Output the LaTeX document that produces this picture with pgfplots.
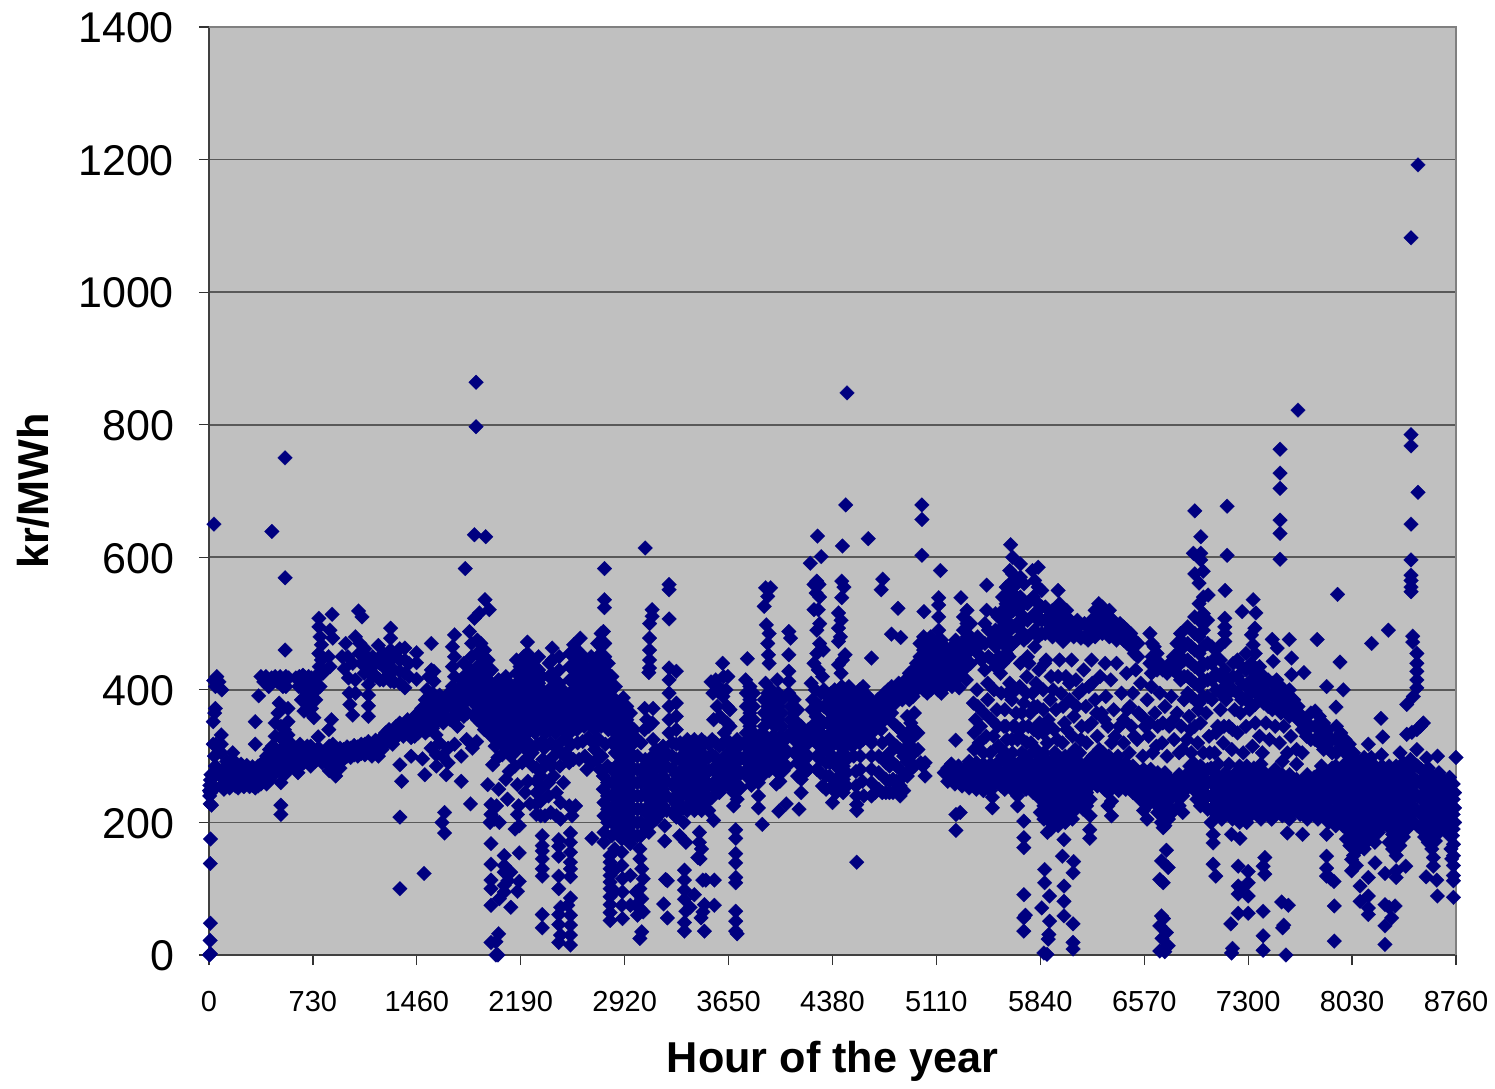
\documentclass[border=0pt]{standalone}
\usepackage{fontspec}
\setmainfont{Liberation Sans}
\usepackage{pgfplots}
\pgfplotsset{compat=1.18}
\definecolor{navy}{HTML}{000080}
\definecolor{plotbg}{HTML}{C0C0C0}
\begin{document}
\begin{tikzpicture}
\path[use as bounding box] (-104.5pt,-66.5pt) rectangle (643pt,477.5pt);
\begin{axis}[
    at={(0pt,0pt)},anchor=south west,
    scale only axis,width=623.5pt,height=464pt,
    xmin=0,xmax=8760,ymin=0,ymax=1400,
    axis background/.style={fill=plotbg},
    clip=false,
    axis x line*=bottom,axis y line*=left,
    xtick={0,730,1460,2190,2920,3650,4380,5110,5840,6570,7300,8030,8760},
    ytick={0,200,400,600,800,1000,1200,1400},
    ymajorgrids,grid style={black!65,line width=0.8pt},
    tick align=outside,tick pos=left,major tick length=5pt,
    every tick/.style={black!80,line width=0.6pt},
    axis line style={black!75,line width=0.8pt},
    /pgf/number format/assume math mode=true,
    /pgf/number format/1000 sep={},
    xticklabel style={font=\fontsize{14.5}{16}\selectfont,yshift=-9.5pt},
    yticklabel style={font=\fontsize{21.5}{24}\selectfont,xshift=-9pt,yshift=-0.5pt},
    xlabel={Hour of the year},ylabel={kr/MWh},
    xlabel style={font=\fontsize{21.6}{24}\bfseries,at={(axis description cs:0.5,0)},anchor=center,yshift=-53pt},
    ylabel style={font=\fontsize{21.6}{24}\bfseries,at={(axis description cs:0,0.5)},anchor=center,yshift=88pt},
]
\draw[black!50,line width=0.8pt] (axis cs:0,1400) -- (axis cs:8760,1400) -- (axis cs:8760,0);
\addplot[navy,only marks,mark=square*,mark size=2.6pt,mark options={rotate=45,draw=navy,fill=navy,line width=0.1pt}] coordinates {
% outliers, top
(35,650)(442,639)(535,569)(535,460)(534,750)(1800,583)(1865,634)(1944,631)(1876,864)(1876,797)(1939,536)(1969,521)(1900,516)(1865,508)
(2778,583)(2778,536)(2778,524)(3064,614)(3232,559)(3232,551)(3232,507)(3113,521)(3113,511)
(4275,632)(4301,601)(4224,591)(4450,617)(4473,679)(4482,848)(4631,628)(4733,567)(4722,551)(4840,523)(4794,484)(4859,479)(4654,448)
(5022,518)(5008,679)(5008,657)(5008,603)(5138,580)(5282,539)(5463,558)
(6925,670)(6967,631)(6915,606)(6967,606)(6967,596)(6925,575)(6984,579)(6955,561)(7152,677)(7152,603)(7138,550)
(7136,508)(7136,495)(7136,485)(7136,473)(7100,466)(7258,518)(7335,536)(7354,516)(7347,493)(7323,483)(7335,468)
(7469,476)(7589,476)(7504,463)(7605,448)(7476,443)(7605,423)(7692,426)(7785,476)(7928,544)(7945,442)(7851,405)(7968,400)(7917,374)
(8167,470)(8285,490)(8233,357)(8245,329)(7524,763)(7524,727)(7524,704)(7524,656)(7524,636)(7524,597)(7650,822)
(8493,1192)(8444,1082)(8444,785)(8444,768)(8493,698)(8444,650)(8444,596)(8444,573)(8444,565)(8444,555)(8444,548)
(8456,481)(8456,472)(8485,455)(8485,440)(8485,428)(8485,415)(8485,403)(8460,390)(8414,378)(8530,350)(8510,345)(8485,340)(8450,336)(8414,333)
% low outliers, left half
(4,0)(10,2)(8,22)(10,48)(9,138)(11,175)(1341,208)(1341,100)(1511,123)(1655,215)(1637,200)(1655,184)(1837,228)(505,226)(505,212)
(1981,168)(1981,137)(1981,113)(1981,100)(1981,75)(1981,19)(2016,0)(2030,0)(2016,20)(2035,32)
(2074,150)(2074,135)(2074,125)(2074,105)(2040,85)(2074,95)(2179,154)(2120,72)(2179,111)(2167,96)(2100,112)(2120,125)
(2341,180)(2341,165)(2341,157)(2341,145)(2341,130)(2341,119)(2341,61)(2341,41)
(2457,174)(2457,164)(2457,149)(2457,119)(2457,100)(2457,61)(2457,46)(2457,19)(2470,30)(2470,72)
(2539,184)(2539,170)(2539,155)(2539,140)(2539,130)(2539,118)(2539,86)(2520,75)(2539,60)(2539,45)(2539,30)(2539,15)(2690,176)
(2818,150)(2818,140)(2818,130)(2818,120)(2818,110)(2818,100)(2818,88)(2818,76)(2818,64)(2818,52)(2850,160)(2850,128)(2850,96)
(2900,175)(2900,155)(2900,135)(2905,115)(2905,95)(2900,75)(2905,55)(2960,120)(2960,75)
(3027,160)(3027,145)(3040,130)(3050,115)(3027,100)(3040,85)(3000,95)(3000,75)(3027,70)(3050,65)(3010,60)(3040,35)(3027,25)
(3201,172)(3306,180)(3350,170)(3445,185)(3445,170)(3460,160)(3545,203)(3434,147)(3450,145)(3208,114)(3220,112)(3469,113)(3490,113)(3550,113)(3194,77)(3220,56)
(3340,128)(3340,113)(3340,98)(3340,84)(3350,66)(3340,49)(3340,36)(3410,91)(3380,72)(3480,76)(3470,65)(3550,75)(3457,56)(3480,36)
(3700,189)(3700,176)(3700,153)(3700,139)(3700,117)(3700,109)(3700,66)(3700,51)(3700,36)(3710,32)
(3887,197)(4003,217)(4055,228)(4145,220)(4380,230)(4550,140)(4550,227)(5247,212)(5247,188)(5277,215)(5245,324)
(5724,202)(5724,177)(5724,162)(5724,91)(5735,60)(5724,56)(5724,36)
% low outliers, right half
(5870,129)(5870,109)(5905,89)(5850,71)(5905,51)(5900,31)(5895,24)(5887,1)(5865,3)(6006,174)(5995,149)(6074,141)(6070,124)(6006,104)(6006,81)(6006,59)(6070,47)(6070,19)(6070,9)
(6187,189)(6187,176)(6703,192)(6726,158)(6691,142)(6738,132)(6679,114)(6703,109)(6691,59)(6679,44)(6726,34)(6738,14)(6679,6)(6714,5)(6705,55)(6695,25)
(7054,182)(7054,169)(7054,137)(7073,119)(7183,182)(7242,176)(7230,134)(7300,126)(7300,109)(7230,104)(7250,100)(7230,92)(7300,89)(7230,63)(7300,63)(7178,47)(7183,3)(7190,10)
(7417,147)(7405,134)(7417,122)(7405,66)(7405,29)(7405,7)(7535,80)(7582,75)(7542,41)(7565,0)(7550,45)(7575,184)(7682,182)(7851,182)
(7851,149)(7851,131)(7851,119)(7903,111)(7880,115)(7905,74)(7905,21)(8027,144)(8027,127)(8060,135)(8086,104)(8086,81)(8144,89)(8144,71)(8144,61)(8191,139)(8144,117)
(8261,123)(8339,127)(8339,117)(8407,134)(8261,76)(8332,74)(8308,56)(8261,44)(8261,16)(8290,72)
(8550,118)(8625,113)(8629,89)(8601,147)(8601,134)(8742,167)(8742,150)(8742,135)(8742,120)(8742,112)(8742,87)(8730,145)(8725,160)(8735,180)
(8760,298)(8630,300)(8554,297)(8367,305)(8237,302)(8144,318)(8485,310)
% 0-1000: low band and upper row
(8,228)(5,240)(3,248)(6,256)(10,264)(14,272)(18,226)(12,245)(42,252)(42,270)(45,285)(38,300)(30,318)(48,318)(30,352)(40,365)(45,372)(33,414)(45,405)(55,420)(70,412)(90,400)
(86,332)(86,318)(86,305)(85,255)(85,272)(105,250)(105,265)(105,282)(125,258)(125,275)(125,292)(145,252)(145,268)(145,285)(165,258)(165,275)(165,295)(167,305)
(185,255)(185,270)(185,284)(205,252)(205,266)(205,280)(225,258)(225,272)(225,288)(245,254)(245,268)(245,282)(265,258)(265,272)(265,286)(285,254)(285,268)(285,280)(305,256)(305,270)(305,284)
(325,252)(325,266)(325,280)(345,255)(345,270)(345,285)(325,352)(325,318)(349,391)(365,258)(365,272)(365,288)(385,262)(385,276)(385,292)(405,258)(405,272)(405,286)(405,300)
(365,420)(385,412)(400,420)(420,405)(440,418)(465,420)(480,412)(500,420)(520,405)(540,420)(540,405)(560,418)
(425,264)(425,278)(425,294)(425,310)(445,270)(445,284)(445,298)(445,315)(465,280)(465,296)(465,312)(465,330)(505,260)(505,275)(505,292)(505,310)(505,328)(505,345)(493,380)(465,350)(485,365)
(530,272)(530,288)(530,304)(530,322)(530,340)(555,280)(555,296)(555,314)(555,332)(555,352)(555,372)(580,284)(580,300)(580,318)(600,290)(600,308)(625,275)(625,292)(640,285)(640,302)(640,318)
(610,418)(635,420)(660,422)(680,418)(700,420)(720,418)(745,415)(770,425)(630,405)(655,402)(680,402)(705,402)(730,402)(755,400)(780,405)(650,385)(675,385)(700,385)(725,388)(750,385)(667,368)(690,370)(720,372)
(772,508)(772,495)(780,480)(790,468)(772,455)(790,445)(775,435)(800,425)(865,514)(850,490)(870,478)(840,450)(850,435)(737,358)(767,329)(860,355)(842,340)
(665,290)(665,305)(690,298)(690,315)(715,285)(715,300)(715,315)(745,292)(745,308)(770,298)(770,312)(795,290)(795,305)(820,292)(820,308)(845,278)(845,295)(845,315)(870,285)(870,300)(870,318)(890,270)(895,290)(895,305)(920,282)(920,298)(920,312)
(945,295)(945,310)(970,300)(970,314)(995,298)(995,312)(1020,302)(1020,316)(1045,300)(1045,314)(1070,304)(1070,318)(1095,302)(1095,318)(1120,306)(1120,322)(1145,300)(1145,316)(1170,308)(1170,324)(1190,300)(1190,318)(1215,310)(1215,328)(1240,320)(1240,335)(1265,322)(1265,340)(1290,318)(1290,335)(1315,328)(1315,345)
% 900-1900: blob of upper row
(935,450)(950,432)(960,470)(975,450)(980,418)(985,395)(990,378)(1010,362)(1028,395)(1028,415)(1028,480)(1010,440)(1051,519)(1075,510)(1060,470)(1055,455)(1070,440)(1090,425)(1095,462)(1120,448)(1120,430)(1120,408)(1120,392)(1120,376)(1120,360)
(1150,450)(1150,435)(1150,420)(1190,467)(1175,445)(1175,420)(1200,440)(1200,415)(1225,455)(1225,435)(1225,415)(1276,493)(1276,478)(1276,460)(1276,445)(1276,430)(1276,413)(1250,440)(1250,420)(1300,450)(1300,430)(1300,412)
(1340,462)(1340,445)(1340,428)(1340,410)(1376,463)(1376,445)(1376,425)(1376,403)(1405,440)(1405,420)(1458,456)(1458,441)(1458,416)(1562,470)(1562,430)(1545,420)(1580,428)(1580,413)(1530,400)
(1340,350)(1340,336)(1365,345)(1365,330)(1395,355)(1395,338)(1420,345)(1420,328)(1445,360)(1445,345)(1445,330)(1470,365)(1470,350)(1470,335)(1495,372)(1495,355)(1495,340)(1520,385)(1520,368)(1520,352)(1520,335)(1545,390)(1545,372)(1545,355)(1545,340)(1570,395)(1570,378)(1570,360)(1570,342)(1595,385)(1595,368)(1595,350)(1595,332)(1620,392)(1620,375)(1620,358)(1645,385)(1645,368)(1645,350)(1670,392)(1670,375)(1670,358)
(1341,287)(1353,262)(1420,300)(1500,296)(1516,272)(1560,312)(1597,302)(1597,285)(1620,320)(1640,300)(1667,272)(1680,290)(1680,312)(1725,318)(1772,262)(1772,300)(1810,325)(1850,312)(1880,322)
(1725,483)(1710,465)(1725,450)(1710,435)(1725,420)(1710,405)(1725,390)(1710,375)(1725,360)(1695,395)(1695,375)(1695,355)(1745,400)(1745,380)(1745,360)(1745,345)(1770,415)(1770,395)(1770,375)(1790,440)(1790,420)(1790,400)(1790,380)(1790,360)(1815,405)(1815,385)(1815,365)(1830,488)(1845,470)(1845,450)(1830,432)(1830,410)(1840,390)(1860,420)(1860,400)(1860,380)(1860,362)(1885,475)(1885,455)(1885,435)(1885,415)(1885,395)(1885,375)(1885,355)(1910,470)(1910,450)(1910,430)(1910,410)(1910,390)(1910,370)(1910,350)(1935,460)(1935,440)(1935,420)(1935,400)(1935,380)(1935,360)(1935,340)(1960,445)(1960,425)(1960,405)(1960,385)(1960,365)(1960,345)(1985,430)(1985,410)(1985,390)(1985,370)(1985,350)(1985,330)
% 1950-2950: big blob
(2010,395)(2010,375)(2010,355)(2010,335)(2010,315)(2035,415)(2035,395)(2035,375)(2035,355)(2035,335)(2060,405)(2060,385)(2060,365)(2060,345)(2060,325)(2085,420)(2085,400)(2085,380)(2085,360)(2085,340)(2110,410)(2110,390)(2110,370)(2110,350)(2110,330)(2135,400)(2135,380)(2135,360)(2135,340)(2135,322)
(2160,445)(2160,425)(2160,405)(2160,385)(2160,365)(2160,345)(2160,325)(2185,435)(2185,415)(2185,395)(2185,375)(2185,355)(2185,335)(2210,450)(2210,430)(2210,410)(2210,390)(2210,370)(2210,350)(2210,330)(2237,472)(2237,455)(2237,435)(2237,415)(2237,395)(2237,375)(2237,355)(2237,335)(2265,445)(2265,425)(2265,405)(2265,385)(2265,365)(2265,345)(2290,435)(2290,415)(2290,395)(2290,375)(2290,355)(2290,335)(2315,450)(2315,430)(2315,410)(2315,390)(2315,370)(2315,350)(2340,420)(2340,400)(2340,380)(2340,360)(2340,340)(2340,322)
(2365,395)(2365,375)(2365,355)(2365,335)(2390,440)(2390,420)(2390,400)(2390,380)(2390,360)(2390,340)(2411,463)(2411,445)(2411,425)(2411,405)(2411,385)(2411,365)(2411,345)(2435,415)(2435,395)(2435,375)(2435,355)(2435,335)(2460,450)(2460,430)(2460,410)(2460,390)(2460,370)(2460,350)(2485,400)(2485,380)(2485,360)(2485,340)(2510,385)(2510,365)(2510,345)(2510,325)
(2535,455)(2535,435)(2535,415)(2535,395)(2535,375)(2535,355)(2535,335)(2562,468)(2562,450)(2562,430)(2562,410)(2562,390)(2562,370)(2562,350)(2585,460)(2585,440)(2585,420)(2585,400)(2585,380)(2585,360)(2585,340)(2608,478)(2610,455)(2610,435)(2610,415)(2610,395)(2610,375)(2610,355)(2635,445)(2635,425)(2635,405)(2635,385)(2635,365)(2635,345)(2660,430)(2660,410)(2660,390)(2660,370)(2660,350)(2685,450)(2685,430)(2685,410)(2685,390)(2685,370)(2685,350)(2710,440)(2710,420)(2710,400)(2710,380)(2710,360)(2710,340)
(2730,470)(2730,450)(2730,430)(2730,410)(2730,390)(2730,370)(2730,350)(2755,485)(2755,465)(2755,445)(2755,425)(2755,405)(2755,385)(2755,365)(2755,345)(2771,488)(2780,470)(2780,450)(2780,430)(2780,410)(2780,390)(2780,370)(2780,350)(2805,440)(2805,420)(2805,400)(2805,380)(2805,360)(2805,340)(2830,420)(2830,400)(2830,380)(2830,360)(2830,340)(2830,320)(2855,405)(2855,385)(2855,365)(2855,345)(2855,325)(2855,305)(2880,380)(2880,360)(2880,340)(2880,320)(2880,300)
% under the blob, 1950-2950
(1993,287)(1958,257)(1981,227)(1981,212)(1975,200)(2005,205)(2020,225)(2035,250)(2030,298)(2060,302)(2040,200)(2097,235)(2109,277)(2120,300)(2167,257)(2167,212)(2175,225)(2180,195)(2150,190)
(2300,282)(2300,262)(2300,245)(2300,228)(2300,212)(2330,270)(2330,250)(2330,232)(2330,210)(2360,285)(2360,210)(2385,260)(2385,240)(2400,215)(2420,300)(2420,270)(2440,245)(2440,210)(2470,230)(2470,205)(2490,260)(2500,300)(2530,290)(2530,225)(2550,210)(2575,225)(2600,295)(2690,290)(2710,310)(2760,300)(2770,270)(2770,250)(2775,230)(2775,210)(2775,185)(2775,170)(2800,285)(2800,260)(2800,240)(2800,220)(2800,200)(2830,280)(2830,260)(2830,240)(2830,220)(2830,200)(2830,180)(2860,285)(2860,265)(2860,245)(2860,225)(2860,205)(2860,185)(2885,280)(2885,260)(2885,240)(2885,220)(2885,200)(2885,180)
(2045,320)(2095,312)(2145,305)(2170,318)(2215,312)(2245,320)(2270,305)(2310,318)(2355,312)(2400,320)(2440,312)(2475,322)(2505,305)(2545,318)(2590,320)(2625,322)(2665,328)(2700,320)(2740,325)(2785,318)(2150,285)(2200,290)(2240,298)(2275,285)(2345,295)(2395,290)(2465,285)(2475,305)(2560,295)(2640,300)(2655,280)(2725,295)(2745,280)(2085,265)(2240,262)(2220,245)(2255,228)(2405,285)
(2910,388)(2910,370)(2910,350)(2910,330)(2910,310)(2910,290)(2910,270)(2910,250)(2910,230)(2910,210)(2910,190)(2935,375)(2935,355)(2935,335)(2935,315)(2935,295)(2935,275)(2935,255)(2935,235)(2935,215)(2935,195)(2935,175)(2960,365)(2960,345)(2960,325)(2960,305)(2960,285)(2960,265)(2960,245)(2960,225)(2960,205)(2960,185)(2960,168)(2985,340)(2985,320)(2985,300)(2985,280)(2985,260)(2985,240)(2985,220)(2985,200)(2985,180)(3010,325)(3010,300)(3010,280)(3010,260)(3010,240)(3010,220)(3010,200)(3010,180)(3035,320)(3035,280)(3035,260)(3035,240)(3035,220)(3035,200)(3035,180)
(3060,372)(3075,355)(3060,340)(3090,345)(3095,500)(3095,478)(3095,460)(3095,445)(3095,433)(3090,426)(3120,372)(3115,350)(3120,325)
% 3050-3700
(3065,295)(3065,270)(3065,245)(3065,220)(3065,195)(3090,285)(3090,260)(3090,235)(3090,210)(3090,185)(3115,300)(3115,275)(3115,250)(3115,225)(3115,200)(3140,310)(3140,285)(3140,265)(3140,245)(3140,220)(3140,205)(3165,305)(3165,285)(3165,260)(3165,235)(3165,212)(3190,315)(3190,295)(3190,270)(3190,250)(3190,225)(3201,195)(3215,305)(3215,285)(3215,262)(3215,240)(3215,218)
(3232,433)(3232,415)(3232,395)(3232,375)(3232,355)(3232,335)(3255,320)(3255,300)(3255,280)(3255,258)(3255,235)(3255,215)(3283,428)(3283,380)(3283,360)(3283,340)(3283,318)(3283,295)(3283,272)(3283,250)(3283,228)(3283,208)(3310,320)(3310,298)(3310,278)(3310,258)(3310,238)(3310,218)(3335,312)(3335,290)(3335,268)(3335,245)(3335,222)(3335,200)(3360,325)(3360,305)(3360,285)(3360,262)(3360,240)(3360,218)
(3385,318)(3385,296)(3385,275)(3385,252)(3385,230)(3410,325)(3410,305)(3410,285)(3410,262)(3410,240)(3410,218)(3435,315)(3435,292)(3435,270)(3435,248)(3435,225)(3460,325)(3460,305)(3460,285)(3460,262)(3460,240)(3460,218)(3485,320)(3485,295)(3485,272)(3485,250)(3485,228)(3510,318)(3510,298)(3510,278)(3510,258)(3510,238)(3510,218)(3535,325)(3535,302)(3535,280)(3535,258)(3535,238)(3560,320)(3560,298)(3560,276)(3560,254)(3585,315)(3585,290)(3585,268)(3585,245)
(3527,412)(3540,395)(3560,415)(3580,405)(3608,440)(3615,420)(3645,420)(3632,400)(3610,390)(3570,375)(3545,355)(3590,360)(3640,375)(3660,345)(3620,335)(3660,370)(3640,350)
(3610,318)(3610,296)(3610,274)(3610,252)(3635,325)(3635,302)(3635,280)(3635,258)(3660,320)(3660,298)(3660,276)(3660,254)(3685,312)(3685,290)(3685,268)(3685,245)(3685,225)(3710,325)(3710,302)(3710,280)(3710,258)(3710,235)(3735,318)(3735,296)(3735,274)(3735,252)
% 3700-4400
(3782,447)(3770,415)(3775,395)(3775,375)(3775,355)(3775,335)(3800,405)(3800,385)(3800,365)(3800,345)(3825,395)(3825,375)(3825,355)(3825,335)(3760,320)(3760,298)(3760,276)(3785,312)(3785,290)(3785,268)(3810,322)(3810,300)(3810,278)(3810,256)(3835,315)(3835,292)(3835,270)(3860,328)(3860,305)(3860,282)(3860,260)(3860,240)(3860,222)
(3910,554)(3945,554)(3925,541)(3900,526)(3915,498)(3935,485)(3925,470)(3930,453)(3935,440)(3910,410)(3992,415)(3900,385)(3900,365)(3900,345)(3925,395)(3925,375)(3925,355)(3950,400)(3950,380)(3950,360)(3975,385)(3975,365)(3975,345)(4000,395)(4000,375)(4000,355)(4025,385)(4025,365)(4025,345)
(3885,335)(3885,315)(3885,292)(3885,270)(3910,330)(3910,308)(3910,285)(3935,322)(3935,300)(3935,278)(3960,330)(3960,308)(3960,285)(3985,322)(3985,300)(3985,278)(3985,258)(4010,330)(4010,308)(4010,285)(4010,262)(4035,322)(4035,300)(4035,278)(4060,330)(4060,308)(4060,285)
(4073,488)(4085,478)(4073,453)(4073,428)(4073,413)(4073,395)(4085,375)(4085,355)(4085,335)(4110,385)(4110,365)(4110,345)(4110,325)(4110,305)(4135,370)(4135,350)(4135,330)(4135,310)(4135,290)(4135,270)(4160,345)(4160,325)(4160,305)(4160,285)(4160,265)(4160,245)(4185,335)(4185,315)(4185,295)(4185,275)(4210,340)(4210,320)(4210,300)(4210,280)
(4270,564)(4250,559)(4285,559)(4265,546)(4290,540)(4250,521)(4280,521)(4290,500)(4270,490)(4290,470)(4270,455)(4315,460)(4250,440)(4280,430)(4310,420)(4230,410)(4260,400)(4300,395)(4240,385)(4270,378)(4235,370)(4265,360)(4290,375)(4235,345)(4265,340)(4295,355)(4235,325)(4265,320)(4295,335)(4320,400)(4320,375)(4320,350)(4320,330)(4325,310)(4270,300)(4295,315)(4295,295)(4270,280)(4295,275)(4310,255)(4335,290)(4335,270)(4335,250)(4360,290)(4360,270)(4380,255)
% 4330-5300
(4445,564)(4460,555)(4445,539)(4422,516)(4440,505)(4422,493)(4435,480)(4422,473)(4468,453)(4450,445)(4422,438)(4440,425)
(4345,390)(4345,370)(4345,350)(4345,330)(4345,315)(4370,395)(4370,375)(4370,355)(4370,335)(4370,315)(4395,400)(4395,380)(4395,360)(4395,340)(4395,320)(4420,395)(4420,375)(4420,355)(4420,335)(4420,318)(4445,405)(4445,385)(4445,365)(4445,345)(4445,325)(4470,395)(4470,375)(4470,355)(4470,335)(4470,315)(4495,405)(4495,385)(4495,365)(4495,345)(4495,325)(4520,395)(4520,375)(4520,355)(4520,335)(4520,315)(4545,390)(4545,370)(4545,350)(4545,330)(4570,400)(4570,380)(4570,360)(4570,340)(4570,320)(4595,405)(4595,385)(4595,365)(4595,345)(4595,325)(4620,392)(4620,372)(4620,352)(4620,332)(4645,385)(4645,365)(4645,345)(4645,325)(4670,378)(4670,358)(4670,338)(4695,385)(4695,365)(4695,345)(4720,378)(4720,358)(4720,340)
(4745,395)(4745,375)(4745,355)(4770,400)(4770,380)(4770,360)(4795,405)(4795,385)(4795,365)(4820,400)(4820,380)(4845,410)(4845,390)(4870,405)(4870,385)(4895,415)(4895,395)(4920,425)(4920,405)(4920,385)(4945,430)(4945,410)(4945,390)(4970,440)(4970,420)(4970,400)
(4995,470)(4995,450)(4995,430)(4995,410)(5020,480)(5020,460)(5020,440)(5020,420)(5020,400)(5045,475)(5045,455)(5045,435)(5045,415)(5045,395)(5070,480)(5070,460)(5070,440)(5070,420)(5070,400)(5095,470)(5095,450)(5095,430)(5095,410)(5120,460)(5120,440)(5120,420)(5120,400)(5145,475)(5145,455)(5145,435)(5145,415)(5145,395)(5170,465)(5170,445)(5170,425)(5170,405)(5195,455)(5195,435)(5195,415)(5220,465)(5220,445)(5220,425)(5220,405)(5245,475)(5245,455)(5245,435)(5245,415)(5270,465)(5270,445)(5270,425)(5270,403)
(5126,539)(5126,528)(5126,510)(5126,490)(5126,475)(5300,510)(5300,490)(5300,470)(5300,450)(5300,430)(5325,520)(5325,500)(5325,480)(5325,460)(5325,440)(5350,500)(5350,480)(5350,460)(5350,440)(5320,415)
(4380,300)(4405,285)(4405,265)(4405,245)(4430,300)(4430,280)(4430,260)(4455,305)(4455,285)(4455,265)(4455,245)(4480,295)(4480,275)(4480,255)(4530,300)(4545,277)(4545,255)(4550,240)(4550,218)(4575,300)(4575,280)(4590,262)(4600,240)
(4654,320)(4654,300)(4654,280)(4654,260)(4654,240)(4680,245)(4705,250)(4705,275)(4705,300)(4730,245)(4730,320)(4755,290)(4755,265)(4755,245)(4780,325)(4780,305)(4780,285)(4780,262)(4780,245)(4805,245)(4805,265)(4805,290)(4805,350)(4830,345)(4830,315)(4830,285)(4830,262)(4855,340)(4855,310)(4855,280)(4855,255)(4855,240)(4880,330)(4880,300)(4880,270)(4880,248)(4905,360)(4905,335)(4905,315)(4905,292)(4905,270)(4930,350)(4930,325)(4930,300)(4930,280)(4955,365)(4955,340)(4955,310)(4955,285)(4980,335)(4980,310)(5000,290)(5015,285)(5030,270)(5030,290)
% 5150-5800 low band and lattice
(5165,275)(5190,262)(5190,282)(5215,268)(5215,288)(5240,258)(5240,278)(5265,265)(5265,285)(5290,255)(5290,275)(5315,262)(5315,282)(5340,252)(5340,272)(5340,292)(5365,260)(5365,280)(5390,250)(5390,270)(5390,290)(5415,256)(5415,276)(5440,248)(5440,268)(5440,288)(5465,258)(5465,278)(5490,248)(5490,268)(5490,288)(5503,238)(5503,222)(5515,258)(5515,278)(5540,268)(5540,290)(5565,255)(5565,275)(5590,250)(5590,270)(5590,292)(5615,260)(5615,282)(5640,250)(5640,270)(5640,292)(5665,260)(5665,282)(5680,240)(5680,225)(5690,250)(5690,270)(5690,290)(5715,258)(5715,280)(5740,250)(5740,270)(5740,292)(5765,258)(5765,280)(5790,245)(5790,265)(5790,285)(5815,255)(5815,275)
(5375,310)(5375,335)(5385,355)(5370,380)(5395,400)(5400,375)(5410,320)(5420,345)(5440,305)(5445,365)(5460,330)(5470,385)(5470,410)(5490,305)(5495,355)(5510,330)(5515,400)(5535,370)(5540,345)(5545,315)(5560,425)(5565,395)(5575,300)(5585,345)(5590,370)(5605,325)(5620,450)(5625,410)(5640,385)(5645,305)(5650,345)(5670,365)(5680,325)(5695,405)(5700,440)(5710,305)(5720,345)(5725,380)(5745,420)(5745,320)(5760,300)(5770,365)(5785,395)(5795,340)(5810,310)(5820,375)(5830,430)(5835,350)
(5640,325)(5660,345)(5665,400)(5690,330)(5710,365)(5735,300)(5740,395)(5755,345)(5760,440)(5775,320)(5795,375)(5810,410)(5825,335)(5840,300)(5600,345)(5610,395)(5595,305)
(5375,465)(5400,480)(5400,455)(5425,470)(5425,445)(5463,520)(5450,500)(5475,490)(5450,470)(5475,450)(5450,430)(5500,475)(5500,445)(5525,515)(5525,490)(5525,465)(5525,435)(5545,510)(5550,480)(5550,450)(5575,540)(5575,520)(5575,495)(5575,470)(5575,440)(5600,555)(5600,530)(5600,505)(5600,480)(5600,455)(5625,580)(5625,560)(5625,540)(5625,515)(5625,490)(5625,465)(5631,619)(5645,600)(5645,575)(5650,545)(5650,520)(5650,495)(5650,470)(5675,560)(5675,530)(5675,500)(5675,475)(5700,590)(5700,570)(5700,540)(5700,515)(5700,490)(5725,560)(5725,530)(5725,505)(5725,475)(5750,530)(5750,505)(5750,480)(5750,450)
% 5800-7300 upper band
(5785,580)(5800,565)(5790,540)(5800,515)(5800,490)(5800,465)(5825,585)(5825,555)(5825,530)(5825,505)(5825,480)(5850,550)(5850,525)(5850,505)(5850,485)(5875,525)(5875,505)(5875,485)(5900,510)(5900,490)(5925,520)(5925,500)(5925,480)(5950,505)(5950,485)(5975,520)(5975,500)(5975,480)(5965,550)(5975,530)(6000,510)(6000,490)(6000,473)(6025,520)(6025,500)(6025,480)(6050,505)(6050,485)(6075,500)(6075,480)(6100,505)(6100,485)(6125,498)(6125,478)(6150,500)(6150,480)(6175,495)(6175,475)(6200,505)(6200,485)(6225,520)(6225,500)(6225,480)(6250,530)(6250,510)(6250,490)(6275,525)(6275,505)(6275,485)(6300,515)(6300,495)(6325,520)(6325,500)(6325,480)(6350,505)(6350,485)(6375,495)(6375,475)(6400,500)(6400,482)(6425,495)(6425,475)(6450,490)(6450,470)(6475,485)(6475,465)(6500,475)(6500,455)(6525,470)(6525,450)
(6610,485)(6625,470)(6625,450)(6640,465)(6640,440)(6660,455)(6660,430)(6680,440)(6610,440)(6620,425)(6700,430)(6730,425)
(6750,440)(6775,450)(6775,430)(6800,470)(6800,445)(6800,425)(6825,485)(6825,460)(6825,440)(6825,415)(6850,470)(6850,445)(6850,420)(6875,495)(6875,470)(6875,445)(6875,420)(6875,395)(6900,465)(6900,440)(6900,415)(6900,390)(6925,510)(6925,485)(6925,460)(6925,435)(6925,410)(6925,385)(6955,530)(6955,505)(6955,480)(6955,455)(6955,430)(6955,405)(6955,380)(6985,540)(6985,515)(6985,490)(6985,465)(6985,440)(6985,415)(6985,390)(7019,543)(7015,505)(7015,470)(7015,440)(7015,415)(7015,390)(7045,465)(7045,440)(7045,415)(7075,450)(7075,425)(7075,400)(7105,445)(7105,420)(7105,395)(7135,430)(7135,405)(7165,415)(7165,395)(7195,440)(7195,420)(7195,400)(7225,445)(7225,420)(7225,395)(7255,435)(7255,410)(7255,385)(7285,455)(7285,430)(7285,405)(7285,385)
(7320,440)(7320,415)(7320,395)(7350,455)(7350,425)(7350,400)(7350,378)(7380,435)(7380,410)(7380,390)(7410,420)(7410,400)(7410,380)(7440,415)(7440,395)(7440,375)(7470,410)(7470,390)(7470,370)(7500,415)(7500,395)(7500,375)(7530,405)(7530,385)(7530,365)(7560,395)(7560,375)(7590,400)(7590,380)(7590,360)(7620,385)(7620,365)(7650,375)(7650,355)(7680,360)(7680,340)(7710,350)(7710,330)(7740,365)(7740,345)(7740,325)(7770,368)(7770,345)(7770,325)(7800,360)(7800,340)(7800,320)(7830,350)(7830,330)(7830,310)(7860,340)(7860,320)(7890,325)(7890,305)(7920,345)(7920,325)(7920,305)(7950,335)(7950,315)(7980,325)(7980,305)(8010,318)(8040,305)
% 5840-7300 lattice between bands
(5860,300)(5860,335)(5860,370)(5860,400)(5870,440)(5890,320)(5895,355)(5910,385)(5915,420)(5935,340)(5945,305)(5950,370)(5975,445)(5985,395)(5995,320)(6010,350)(6020,420)(6040,300)(6045,385)(6060,445)(6065,330)(6075,360)(6090,415)(6110,395)(6115,305)(6130,345)(6145,430)(6160,375)(6165,320)(6180,405)(6200,445)(6200,350)(6210,300)(6225,385)(6240,330)(6260,420)(6270,365)(6280,305)(6295,440)(6300,390)(6315,345)(6335,415)(6340,320)(6355,370)(6375,440)(6385,300)(6395,345)(6410,395)(6425,320)(6445,425)(6450,370)(6465,305)(6480,345)(6490,395)(6510,430)(6520,325)(6530,365)(6545,410)(6560,300)(6575,345)(6590,385)(6600,330)(6620,405)(6630,305)(6645,365)(6665,345)(6680,395)(6695,320)(6715,375)(6730,300)(6745,345)(6760,390)(6780,325)(6800,365)(6815,305)(6830,345)(6850,385)(6870,325)(6885,360)(6900,305)(6925,345)(6945,320)(6965,350)(6985,305)(7005,365)(7025,330)(7045,385)(7065,305)(7085,345)(7105,370)(7125,320)(7145,385)(7165,345)(7185,310)(7205,370)(7225,335)(7245,365)(7265,305)(7285,345)(7310,370)(7330,315)(7350,350)(7380,330)(7400,305)(7425,350)(7450,325)(7490,345)(7520,320)(7550,345)(7575,305)(7600,330)(7640,310)(7680,305)
(5880,445)(5905,345)(5930,400)(5960,325)(5965,420)(6000,375)(6025,340)(6045,410)(6085,310)(6095,375)(6125,325)(6135,400)(6175,345)(6205,410)(6235,365)(6255,310)(6290,355)(6320,300)(6365,330)(6425,355)(6470,375)(6500,330)(6555,360)(6610,350)(6655,315)(6700,350)(6775,355)(6840,310)(6895,340)(6950,370)(7030,305)(7075,335)(7130,345)(7190,340)
% 5840-8760 low band
(5840,215)(5840,235)(5840,255)(5840,275)(5840,295)(5865,205)(5865,225)(5865,245)(5865,265)(5865,285)(5865,305)(5890,185)(5890,205)(5890,225)(5890,245)(5890,265)(5890,285)(5915,190)(5915,210)(5915,230)(5915,250)(5915,270)(5915,290)(5940,205)(5940,225)(5940,245)(5940,265)(5940,285)(5940,305)(5965,195)(5965,215)(5965,235)(5965,255)(5965,275)(5965,295)(5990,210)(5990,230)(5990,250)(5990,270)(5990,290)(6015,200)(6015,220)(6015,240)(6015,260)(6015,280)(6015,300)(6040,215)(6040,235)(6040,255)(6040,275)(6065,205)(6065,225)(6065,245)(6065,265)(6065,285)(6090,220)(6090,240)(6090,260)(6090,280)(6090,300)(6115,230)(6115,250)(6115,270)(6115,290)(6140,220)(6140,240)(6140,260)(6140,280)(6165,225)(6165,245)(6165,265)(6165,285)(6190,210)(6190,235)(6190,255)(6190,275)(6190,295)
(6215,265)(6215,285)(6240,255)(6240,275)(6240,295)(6265,262)(6265,282)(6290,250)(6290,270)(6290,290)(6315,225)(6315,245)(6315,262)(6315,282)(6340,210)(6340,232)(6340,252)(6340,272)(6340,292)(6365,258)(6365,278)(6390,248)(6390,268)(6390,288)(6415,258)(6415,278)(6440,250)(6440,270)(6440,290)(6465,258)(6465,278)(6490,245)(6490,265)(6490,285)(6515,250)(6515,270)(6540,235)(6540,255)(6540,275)(6565,218)(6565,240)(6565,260)(6565,280)(6590,205)(6590,225)(6590,248)(6590,268)(6615,240)(6615,260)(6615,280)(6640,230)(6640,250)(6640,270)(6665,215)(6665,235)(6665,255)(6665,275)(6690,200)(6690,220)(6690,240)(6690,262)(6715,195)(6715,215)(6715,235)(6715,255)(6715,275)(6740,205)(6740,225)(6740,248)(6740,268)(6765,215)(6765,238)(6765,258)(6790,240)(6790,262)(6815,225)(6815,250)(6815,272)(6840,215)(6840,240)(6840,262)(6865,250)(6865,272)(6890,260)(6890,285)
(6915,250)(6915,270)(6915,290)(6940,235)(6940,255)(6940,275)(6965,225)(6965,245)(6965,265)(6965,285)(6990,235)(6990,255)(6990,275)(7015,220)(7015,240)(7015,260)(7015,280)(7040,200)(7040,220)(7040,240)(7040,262)(7040,282)(7065,215)(7065,235)(7065,255)(7065,275)(7090,225)(7090,245)(7090,265)(7090,288)(7115,205)(7115,225)(7115,245)(7115,265)(7140,215)(7140,235)(7140,255)(7140,275)(7165,225)(7165,245)(7165,265)(7165,288)(7190,205)(7190,225)(7190,245)(7190,265)(7215,215)(7215,235)(7215,255)(7215,275)(7240,200)(7240,220)(7240,240)(7240,262)(7240,285)(7265,210)(7265,232)(7265,252)(7265,272)(7290,200)(7290,222)(7290,242)(7290,262)(7290,285)(7315,210)(7315,232)(7315,252)(7315,272)(7340,220)(7340,240)(7340,260)(7340,282)(7365,212)(7365,232)(7365,252)(7365,272)(7390,205)(7390,225)(7390,245)(7390,265)(7390,288)(7415,215)(7415,235)(7415,255)(7415,275)(7440,225)(7440,245)(7440,265)(7465,205)(7465,228)(7465,250)(7465,272)(7490,215)(7490,238)(7490,258)(7490,280)(7515,225)(7515,245)(7515,265)(7540,210)(7540,232)(7540,252)(7540,272)(7540,292)(7565,220)(7565,240)(7565,260)(7590,205)(7590,228)(7590,250)(7590,272)(7615,215)(7615,238)(7615,258)(7640,222)(7640,245)(7640,265)(7640,288)(7665,212)(7665,235)(7665,255)(7690,225)(7690,245)(7690,265)(7715,205)(7715,228)(7715,250)(7715,272)(7740,215)(7740,238)(7740,258)(7765,225)(7765,245)(7765,268)(7790,205)(7790,228)(7790,250)(7790,272)(7815,215)(7815,238)(7815,258)(7815,285)
(7840,210)(7840,232)(7840,255)(7840,278)(7865,200)(7865,222)(7865,245)(7865,268)(7890,215)(7890,238)(7890,260)(7890,282)(7915,195)(7915,218)(7915,240)(7915,262)(7915,285)(7940,205)(7940,228)(7940,250)(7940,272)(7965,195)(7965,215)(7965,238)(7965,260)(7965,285)(7990,175)(7990,200)(7990,222)(7990,245)(7990,268)(7990,290)(8015,165)(8015,185)(8015,208)(8015,230)(8015,252)(8015,275)(8015,298)(8040,150)(8040,172)(8040,195)(8040,218)(8040,240)(8040,262)(8040,285)(8065,158)(8065,180)(8065,205)(8065,228)(8065,250)(8065,272)(8065,295)(8090,170)(8090,192)(8090,215)(8090,238)(8090,260)(8090,282)(8115,160)(8115,182)(8115,205)(8115,228)(8115,250)(8115,272)(8115,298)(8140,172)(8140,195)(8140,218)(8140,240)(8140,262)(8140,285)(8165,185)(8165,208)(8165,230)(8165,252)(8165,275)(8165,298)(8190,170)(8190,195)(8190,218)(8190,240)(8190,262)(8190,285)(8215,185)(8215,208)(8215,230)(8215,252)(8215,275)(8240,195)(8240,218)(8240,240)(8240,262)(8240,285)
(8265,205)(8265,228)(8265,250)(8265,272)(8290,170)(8290,192)(8290,215)(8290,238)(8290,260)(8290,285)(8315,160)(8315,182)(8315,205)(8315,228)(8315,250)(8315,272)(8340,150)(8340,172)(8340,195)(8340,218)(8340,240)(8340,262)(8340,285)(8365,165)(8365,185)(8365,208)(8365,230)(8365,252)(8365,275)(8390,178)(8390,200)(8390,222)(8390,245)(8390,268)(8390,290)(8415,190)(8415,212)(8415,235)(8415,258)(8415,280)(8440,205)(8440,228)(8440,250)(8440,272)(8440,295)(8465,215)(8465,238)(8465,260)(8465,285)(8490,195)(8490,218)(8490,240)(8490,262)(8490,285)(8515,190)(8515,212)(8515,235)(8515,258)(8515,280)(8540,178)(8540,200)(8540,222)(8540,245)(8540,268)(8565,170)(8565,192)(8565,215)(8565,238)(8565,260)(8565,282)(8590,160)(8590,182)(8590,205)(8590,228)(8590,250)(8590,272)(8615,172)(8615,195)(8615,218)(8615,240)(8615,262)(8640,185)(8640,208)(8640,230)(8640,252)(8640,275)(8665,198)(8665,220)(8665,242)(8665,265)(8690,188)(8690,210)(8690,232)(8690,255)(8715,180)(8715,200)(8715,222)(8715,245)(8715,268)(8740,190)(8740,212)(8740,235)(8740,258)(8750,200)(8750,222)(8750,245)
};
\end{axis}
\end{tikzpicture}
\end{document}
